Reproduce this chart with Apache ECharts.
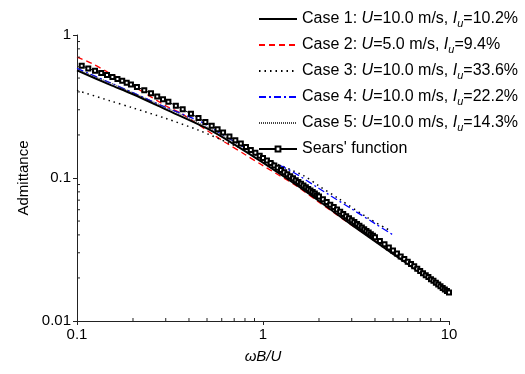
<!DOCTYPE html>
<html>
<head>
<meta charset="utf-8">
<script src="https://cdn.jsdelivr.net/npm/echarts@6/dist/echarts.min.js"></script>
<style>
html,body{margin:0;padding:0;background:#fff;}
#c{width:525px;height:374px;}
</style>
</head>
<body>
<div id="c"></div>
<script>
// ---- data ----
const case1X = [0.1,0.15,0.2,0.3,0.5,0.7,1,1.5,2,3,5,7,10];
const case1Y = [0.565,0.45,0.385,0.302,0.222,0.172,0.128,0.090,0.069,0.047,0.0295,0.0218,0.0157];

const case2X = [0.1,0.12,0.15,0.2,0.3,0.365,0.5,0.625,0.8,1,1.5,2,3,4,5,7,10];
const case2Y = [0.70,0.633,0.54,0.44,0.32,0.282,0.215,0.178,0.146,0.122,0.0886,0.0677,0.0467,0.0364,0.0296,0.0222,0.0163];

const case3X = [0.1,0.15,0.2,0.3,0.45,0.7,1,1.65,2,2.5,3.63,4.8];
const case3Y = [0.41,0.347,0.309,0.261,0.216,0.169,0.138,0.104,0.088,0.073,0.053,0.043];

const case4X = [0.1,0.15,0.2,0.3,0.468,0.552,0.7,1,1.4,2,3,4,5];
const case4Y = [0.585,0.465,0.395,0.312,0.246,0.216,0.18,0.138,0.113,0.0845,0.0607,0.048,0.040];

const case5X = [0.1,0.15,0.2,0.3,0.5,0.7,1,1.5,2,3,5,7,10];
const case5Y = [0.575,0.465,0.395,0.312,0.228,0.178,0.133,0.093,0.071,0.048,0.030,0.0222,0.016];

const searsX = [0.106,0.115,0.125,0.135,0.145,0.155,0.165,0.175,0.185,0.195,0.21,0.23,0.25,0.27,0.29,0.31,0.34,0.37,0.41,0.45,0.49,0.53,0.57,0.61,0.66,0.71,0.76,0.81,0.86,0.91,0.96,
  1.0,1.05,1.1,1.15,1.2,1.25,1.3,1.35,1.4,1.45,1.5,1.55,1.6,1.65,1.7,1.75,1.8,1.85,1.9,1.95,
  2.0,2.1,2.2,2.3,2.4,2.5,2.6,2.7,2.8,2.9,3.0,3.1,3.2,3.3,3.4,3.5,3.6,3.7,3.8,3.9,
  4.0,4.25,4.5,4.75,5.0,5.25,5.5,5.75,6.0,6.25,6.5,6.75,7.0,7.25,7.5,7.75,8.0,8.25,8.5,8.75,9.0,9.25,9.5,9.75,10];
const searsY = [0.61,0.583,0.562,0.543,0.525,0.508,0.493,0.478,0.464,0.451,0.433,0.411,0.391,0.372,0.356,0.341,0.320,0.302,0.281,0.263,0.246,0.232,0.219,0.208,0.195,0.184,0.174,0.165,0.157,0.150,0.143,
  0.138,0.1324,0.1272,0.1223,0.1178,0.1136,0.1097,0.1061,0.1027,0.0995,0.0965,0.0937,0.0910,0.0885,0.0861,0.0839,0.0818,0.0797,0.0778,0.0759,
  0.0742,0.0709,0.0679,0.0651,0.0626,0.0602,0.0581,0.0560,0.0541,0.0524,0.0507,0.0492,0.0477,0.0463,0.0450,0.0438,0.0426,0.0415,0.0405,0.0395,
  0.0385,0.0363,0.0344,0.0326,0.0311,0.0296,0.0283,0.0271,0.0260,0.0250,0.0241,0.0232,0.0224,0.0216,0.0209,0.0203,0.0196,0.0191,0.0185,0.0180,0.0175,0.0170,0.0166,0.0162,0.0158];

const SEARS = "Sears' function";
const seriesNames = ['Case 1','Case 2','Case 3','Case 4','Case 5',SEARS];
const legendLabels = {
  'Case 1': 'Case 1: {i|U}=10.0 m/s, {i|I}{s|u}=10.2%',
  'Case 2': 'Case 2: {i|U}=5.0 m/s, {i|I}{s|u}=9.4%',
  'Case 3': 'Case 3: {i|U}=10.0 m/s, {i|I}{s|u}=33.6%',
  'Case 4': 'Case 4: {i|U}=10.0 m/s, {i|I}{s|u}=22.2%',
  'Case 5': 'Case 5: {i|U}=10.0 m/s, {i|I}{s|u}=14.3%',
  "Sears' function": "Sears' function"
};
const xTickLabels = {'0.1':'0.1','1':'1','10':'10'};
const yTickLabels = {'0.01':'0.01','0.1':'0.1','1':'1'};
const xMinorTicks = [0.2,0.3,0.4,0.5,0.6,0.7,0.8,0.9,2,3,4,5,6,7,8,9];
const yMinorTicks = [0.02,0.03,0.04,0.05,0.06,0.07,0.08,0.09,0.2,0.3,0.4,0.5,0.6,0.7,0.8,0.9];

const pairs = (xs, ys) => xs.map((x, i) => [x, ys[i]]);
const FONT = '"Liberation Sans", Arial, sans-serif';

const chart = echarts.init(document.getElementById('c'), null, {renderer: 'canvas'});

function minorTickSeries(vals, isX) {
  return {
    type: 'custom',
    coordinateSystem: 'cartesian2d',
    silent: true,
    clip: false,
    z: 10,
    data: vals.map(v => isX ? [v, 0.01] : [0.1, v]),
    renderItem: function (params, api) {
      const p = api.coord([api.value(0), api.value(1)]);
      const shape = isX ? {x1: p[0], y1: p[1], x2: p[0], y2: p[1] - 3}
                        : {x1: p[0], y1: p[1], x2: p[0] + 3, y2: p[1]};
      return {type: 'line', shape: shape, style: {stroke: '#222', lineWidth: 1}};
    }
  };
}

function lineSeries(name, xs, ys, color, width, dash) {
  return {
    name: name, type: 'line', data: pairs(xs, ys),
    symbol: 'none', showSymbol: false, smooth: 0.3,
    color: color,
    lineStyle: {color: color, width: width, type: dash}
  };
}

const option = {
  animation: false,
  backgroundColor: '#fff',
  textStyle: {fontFamily: FONT},
  grid: {left: 77, right: 76, top: 35, bottom: 53, containLabel: false},
  legend: {
    orient: 'vertical',
    left: 258,
    top: 9,
    padding: 0,
    itemWidth: 38,
    itemHeight: 6,
    itemGap: 6,
    data: seriesNames.map(n => n === SEARS ? {name: n, itemStyle: {borderWidth: 1}} : {name: n, itemStyle: {opacity: 0}}),
    selectedMode: false,
    formatter: name => legendLabels[name],
    textStyle: {
      fontFamily: FONT, fontSize: 16, color: '#000', lineHeight: 20,
      rich: {
        i: {fontStyle: 'italic', fontSize: 16, fontFamily: FONT, color: '#000', lineHeight: 20},
        s: {fontStyle: 'italic', fontSize: 11, fontFamily: FONT, color: '#000', verticalAlign: 'bottom', lineHeight: 8}
      }
    }
  },
  xAxis: {
    type: 'log', logBase: 10, min: 0.1, max: 10,
    name: 'ωB/U', nameLocation: 'middle', nameGap: 28,
    nameTextStyle: {fontFamily: FONT, fontSize: 15, fontStyle: 'italic', color: '#000'},
    axisLine: {show: true, onZero: false, lineStyle: {color: '#222', width: 1}},
    axisTick: {show: true, inside: false, length: 4, lineStyle: {color: '#222'}},
    axisLabel: {fontFamily: FONT, fontSize: 15, color: '#000', margin: 6,
      formatter: v => xTickLabels[String(+v.toPrecision(3))] || ''},
    splitLine: {show: false}
  },
  yAxis: {
    type: 'log', logBase: 10, min: 0.01, max: 1,
    name: 'Admittance', nameLocation: 'middle', nameGap: 42,
    nameTextStyle: {fontFamily: FONT, fontSize: 15, color: '#000'},
    axisLine: {show: true, onZero: false, lineStyle: {color: '#222', width: 1}},
    axisTick: {show: true, inside: false, length: 4, lineStyle: {color: '#222'}},
    axisLabel: {fontFamily: FONT, fontSize: 15, color: '#000', margin: 6,
      formatter: v => yTickLabels[String(+v.toPrecision(3))] || ''},
    splitLine: {show: false}
  },
  series: [
    lineSeries('Case 2', case2X, case2Y, '#ff0000', 1.3, [6, 4]),
    lineSeries('Case 3', case3X, case3Y, '#000000', 1.5, [1.5, 4]),
    lineSeries('Case 4', case4X, case4Y, '#0000ff', 1.3, [7, 3, 2, 3]),
    lineSeries('Case 5', case5X, case5Y, '#444444', 1, [1, 1]),
    lineSeries('Case 1', case1X, case1Y, '#000000', 2, 'solid'),
    {name: SEARS, type: 'line', data: pairs(searsX, searsY),
      symbol: 'emptyRect', symbolSize: 4, showSymbol: true, showAllSymbol: true,
      color: '#000', itemStyle: {color: '#000', borderWidth: 1},
      lineStyle: {color: '#000', width: 1}},
    minorTickSeries(xMinorTicks, true),
    minorTickSeries(yMinorTicks, false)
  ]
};
chart.setOption(option);
</script>
</body>
</html>
